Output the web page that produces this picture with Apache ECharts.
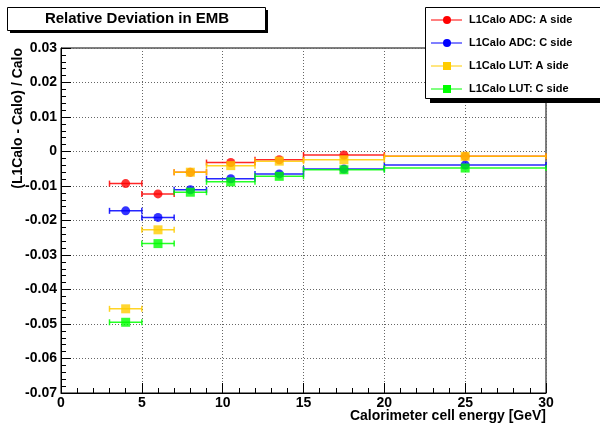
<!DOCTYPE html>
<html>
<head>
<meta charset="utf-8">
<script src="https://cdn.jsdelivr.net/npm/echarts@6/dist/echarts.min.js"></script>
<style>
  html, body { margin: 0; padding: 0; background: #fff; }
  #chart { width: 600px; height: 427px; }
</style>
</head>
<body>
<div id="chart"></div>
<script>
// energy bins [GeV]
var binLo = [3, 5, 7, 9, 12, 15, 20];
var binHi = [5, 7, 9, 12, 15, 20, 30];
var binMid = [4, 6, 8, 10.5, 13.5, 17.5, 25];

// relative deviation per bin
var adcA = [-0.0093, -0.0123, -0.0060, -0.0032, -0.0024, -0.0010, -0.0014];
var adcC = [-0.0172, -0.0191, -0.0111, -0.0079, -0.0065, -0.0051, -0.0039];
var lutA = [-0.0456, -0.0227, -0.0060, -0.0041, -0.0028, -0.0024, -0.0014];
var lutC = [-0.0495, -0.0267, -0.0118, -0.0088, -0.0072, -0.0053, -0.0048];

var names = ["L1Calo ADC: A side", "L1Calo ADC: C side", "L1Calo LUT: A side", "L1Calo LUT: C side"];
var colors = ["#ff0000", "#0000ff", "#ffcc00", "#00ff00"];
var symbols = ["circle", "circle", "rect", "rect"];
var values = [adcA, adcC, lutA, lutC];

var FONT = "Liberation Sans, Arial, sans-serif";

var myChart = echarts.init(document.getElementById("chart"));

var series = [];
values.forEach(function (vals, k) {
  // horizontal bin-width bars
  series.push({
    type: "custom",
    name: names[k] + " bins",
    z: 2 + k,
    data: vals.map(function (v, i) { return [binLo[i], binHi[i], v]; }),
    renderItem: function (params, api) {
      var p1 = api.coord([api.value(0), api.value(2)]);
      var p2 = api.coord([api.value(1), api.value(2)]);
      var c = colors[k];
      var st = { stroke: c, lineWidth: 1.5, opacity: 0.85 };
      return {
        type: "group",
        children: [
          { type: "line", shape: { x1: p1[0], y1: p1[1], x2: p2[0], y2: p2[1] }, style: st },
          { type: "line", shape: { x1: p1[0], y1: p1[1] - 3, x2: p1[0], y2: p1[1] + 3 }, style: st },
          { type: "line", shape: { x1: p2[0], y1: p2[1] - 3, x2: p2[0], y2: p2[1] + 3 }, style: st }
        ]
      };
    }
  });
});
values.forEach(function (vals, k) {
  series.push({
    type: "scatter",
    name: names[k],
    z: 10 + k,
    symbol: symbols[k],
    symbolSize: 9,
    itemStyle: { color: colors[k] },
    data: vals.map(function (v, i) { return [binMid[i], v]; })
  });
});

// legend box drawn by hand (ROOT style pave with shadow)
var legendEls = [
  { type: "rect", shape: { x: 430, y: 99, width: 170, height: 4 }, style: { fill: "#000" }, z: 100 },
  { type: "rect", shape: { x: 425.5, y: 7.5, width: 176, height: 91 }, style: { fill: "#fff", stroke: "#000", lineWidth: 1 }, z: 101 }
];
names.forEach(function (n, k) {
  var y = 20 + k * 23;
  legendEls.push({ type: "line", shape: { x1: 431, y1: y, x2: 462, y2: y }, style: { stroke: colors[k], lineWidth: 1 }, z: 102 });
  if (symbols[k] === "circle") {
    legendEls.push({ type: "circle", shape: { cx: 447, cy: y, r: 4 }, style: { fill: colors[k] }, z: 103 });
  } else {
    legendEls.push({ type: "rect", shape: { x: 443, y: y - 4, width: 8, height: 8 }, style: { fill: colors[k] }, z: 103 });
  }
  legendEls.push({
    type: "text", x: 469, y: y, z: 103,
    style: { text: n, fill: "#000", font: "bold 11px " + FONT, textAlign: "left", textVerticalAlign: "middle" }
  });
});

var option = {
  backgroundColor: "#fff",
  animation: false,
  grid: {
    left: 61, right: 54, top: 48, bottom: 34,
    show: true, borderColor: "#000", borderWidth: 1, backgroundColor: "#fff"
  },
  xAxis: {
    type: "value",
    min: 0, max: 30, interval: 5,
    axisLine: { onZero: false, lineStyle: { color: "#000", width: 1 } },
    axisTick: { inside: true, length: 10, lineStyle: { color: "#000" } },
    minorTick: { show: true, splitNumber: 5, length: 5, lineStyle: { color: "#000" } },
    splitLine: { show: true, lineStyle: { color: "#666", type: [1, 2], width: 1 } },
    axisLabel: { color: "#000", fontFamily: FONT, fontWeight: "bold", fontSize: 14, margin: 3 }
  },
  yAxis: {
    type: "value",
    min: -0.07, max: 0.03, interval: 0.01,
    axisLine: { show: true, onZero: false, lineStyle: { color: "#000", width: 1 } },
    axisTick: { show: true, inside: true, length: 10, lineStyle: { color: "#000" } },
    minorTick: { show: true, splitNumber: 5, length: 5, lineStyle: { color: "#000" } },
    splitLine: { show: true, lineStyle: { color: "#666", type: [1, 2], width: 1 } },
    axisLabel: {
      color: "#000", fontFamily: FONT, fontWeight: "bold", fontSize: 14, margin: 4,
      formatter: function (v) { return Math.abs(v) < 1e-9 ? "0" : v.toFixed(2); }
    }
  },
  graphic: [
    // title pave
    { type: "rect", shape: { x: 10, y: 10, width: 258, height: 23 }, style: { fill: "#000" }, z: 100 },
    { type: "rect", shape: { x: 7.5, y: 7.5, width: 258, height: 23 }, style: { fill: "#fff", stroke: "#000", lineWidth: 1 }, z: 101 },
    {
      type: "text", x: 137, y: 19, z: 102,
      style: { text: "Relative Deviation in EMB", fill: "#000", font: "bold 15px " + FONT, textAlign: "center", textVerticalAlign: "middle" }
    },
    // axis titles
    {
      type: "text", x: 18, y: 48, rotation: Math.PI / 2, z: 102,
      style: { text: "(L1Calo - Calo) / Calo", fill: "#000", font: "bold 14px " + FONT, textAlign: "right", textVerticalAlign: "middle" }
    },
    {
      type: "text", x: 546, y: 416, z: 102,
      style: { text: "Calorimeter cell energy [GeV]", fill: "#000", font: "bold 14px " + FONT, textAlign: "right", textVerticalAlign: "middle" }
    }
  ].concat(legendEls),
  series: series
};
option && myChart.setOption(option);
</script>
</body>
</html>
